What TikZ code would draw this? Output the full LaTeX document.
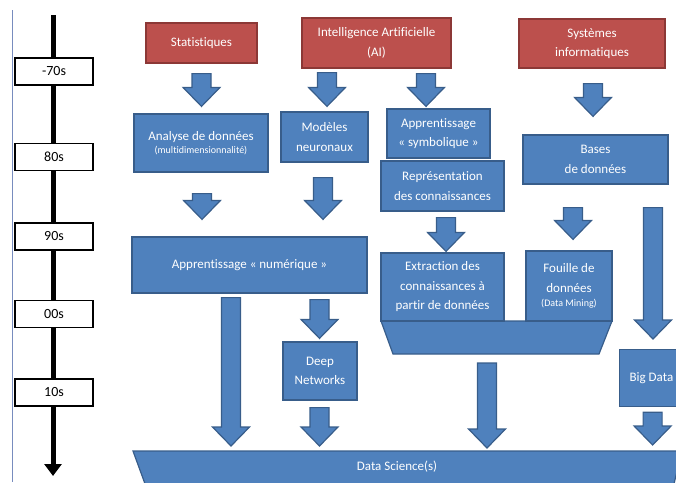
\documentclass[tikz,border=0pt]{standalone}
\usepackage{fontspec}
\setmainfont{Carlito}[Ligatures={NoCommon}]
\usepackage{xcolor}
\usepackage{tikz}
\usetikzlibrary{arrows.meta,calc}

\definecolor{boxblue}{RGB}{79,129,189}
\definecolor{boxblueline}{RGB}{56,93,138}
\definecolor{boxred}{RGB}{188,80,77}
\definecolor{boxredline}{RGB}{140,56,54}
\definecolor{sideline}{RGB}{120,140,190}

\tikzset{
  redbox/.style={draw=boxredline, fill=boxred, line width=1.2pt, text=white, align=center,
    font=\fontsize{13}{19.5}\selectfont, inner sep=0pt},
  bluebox/.style={draw=boxblueline, fill=boxblue, line width=1.2pt, text=white, align=center,
    font=\fontsize{13}{19.5}\selectfont, inner sep=0pt},
  arrowblk/.style={draw=boxblueline, fill=boxblue, line width=1.2pt, line join=miter},
  yearbox/.style={draw=black, fill=white, line width=1.5pt, minimum width=78pt,
    minimum height=27pt, inner sep=0pt, font=\fontsize{14}{16}\selectfont},
}

% block arrow, from start point down to the tip
\newcommand{\bigarrow}[2]{%
  \path[arrowblk] let \p1=#1, \p2=#2 in
    (\x1-9.5pt,\y1) -- (\x1+9.5pt,\y1) -- (\x1+9.5pt,\y2+19pt) -- (\x1+18.5pt,\y2+19pt)
    -- (\x1,\y2) -- (\x1-18.5pt,\y2+19pt) -- (\x1-9.5pt,\y2+19pt) -- cycle;}
\newcommand{\smalltxt}[1]{{\fontsize{10}{12}\selectfont #1}}

\begin{document}
\begin{tikzpicture}[x=1pt, y=-1pt]
\useasboundingbox (0,0) rectangle (676,482);
\clip (0,0) rectangle (676,482);

% time line
\draw[sideline, line width=0.8pt] (12,10) -- (12,482);
\coordinate (tltop) at (53,15);
\coordinate (tlend) at (53,476);
\draw[line width=5pt, -{Triangle[width=17pt,length=12pt]}] (tltop) -- (tlend);
\foreach \yr/\yy [count=\i] in {-70s/71.5, 80s/157, 90s/236.5, 00s/314, 10s/392.5}
  \node[yearbox] (yr\i) at (54,\yy) {\yr};

% sources
\node[redbox, minimum width=111pt, minimum height=40pt] (stat) at (201.5,43) {Statistiques};
\node[redbox, minimum width=149pt, minimum height=50pt] (ai) at (376.5,43) {Intelligence Artificielle\\(AI)};
\node[redbox, minimum width=146pt, minimum height=49pt] (sys) at (592,43.5) {Systèmes\\informatiques};

% second row
\node[bluebox, minimum width=134pt, minimum height=58pt] (analyse) at (201,143)
  {Analyse de données\\[-6pt]\smalltxt{(multidimensionnalité)}};
\node[bluebox, minimum width=87pt, minimum height=50pt] (modeles) at (324.5,137) {Modèles\\neuronaux};
\node[bluebox, minimum width=103pt, minimum height=49pt] (symb) at (438.5,133.5) {Apprentissage\\« symbolique »};
\node[bluebox, minimum width=123pt, minimum height=50pt] (repr) at (442.5,186) {Représentation\\des connaissances};
\node[bluebox, minimum width=145pt, minimum height=49pt] (bases) at (595.5,159.5) {Bases\\de données};

% third row
\node[bluebox, minimum width=235pt, minimum height=56pt] (num) at (249.5,265) {Apprentissage « numérique »};
\draw[arrowblk] (381,321) -- (612,321) -- (599,354) -- (393,354) -- cycle;
\coordinate (trapbot) at (487,354);
\node[bluebox, minimum width=123pt, minimum height=68pt] (extr) at (442.5,287)
  {Extraction des\\connaissances à\\partir de données};
\node[bluebox, minimum width=86pt, minimum height=70pt] (fouille) at (569,286)
  {Fouille de\\données\\[-5pt]\smalltxt{(Data Mining)}};

% fourth row
\node[bluebox, minimum width=74pt, minimum height=58pt] (deep) at (320,371) {Deep\\Networks};
\node[bluebox, anchor=north west, text width=60pt, align=flush left, inner xsep=10pt,
  minimum height=57pt] (big) at (619,349) {Big Data};

% data science
\draw[arrowblk] (133,451) -- (682,451) -- (672,492) -- (148,492) -- cycle;
\coordinate (dstop) at (405,451);
\node[text=white, font=\fontsize{13}{15}\selectfont] (ds) at (397,467) {Data Science(s)};

% arrows
\bigarrow{($(stat.south)+(0,10)$)}{($(analyse.north)+(0,-7)$)}
\bigarrow{($(ai.south)+(-49.5,4)$)}{($(modeles.north)+(0,-5)$)}
\bigarrow{($(ai.south)+(49.5,5)$)}{($(symb.north)+(0,-2)$)}
\bigarrow{($(sys.south)+(1,15)$)}{($(bases.north)+(0,-18)$)}
\bigarrow{($(analyse.south)+(1,21)$)}{($(num.north)+(0,-17)$)}
\bigarrow{($(modeles.south)+(-1.5,15)$)}{($(num.north)+(0,-17)$)}
\bigarrow{($(repr.south)+(3.5,6)$)}{($(extr.north)+(0,-1)$)}
\bigarrow{($(bases.south)+(-22.5,23)$)}{($(fouille.north)+(0,-11)$)}
\bigarrow{($(bases.south)+(57.5,23)$)}{($(big.north)+(0,-10)$)}
\bigarrow{($(num.south)+(-18.5,4)$)}{($(dstop)+(0,-5)$)}
\bigarrow{($(num.south)+(70,6)$)}{($(deep.north)+(0,-3)$)}
\bigarrow{($(deep.south)+(-0.5,7)$)}{($(dstop)+(0,-5)$)}
\bigarrow{($(trapbot)+(0,9)$)}{($(dstop)+(0,-3)$)}
\bigarrow{($(big.south)+(-7,5)$)}{($(dstop)+(0,-6)$)}
\end{tikzpicture}
\end{document}
